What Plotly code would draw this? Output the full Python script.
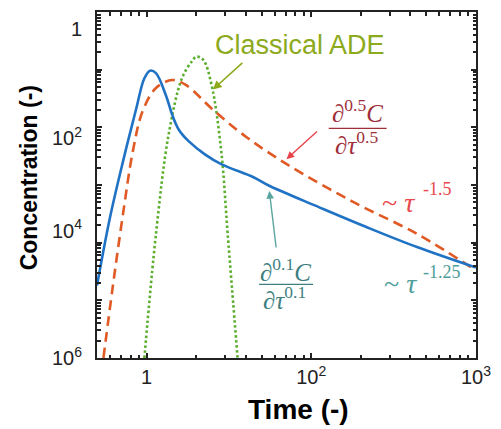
import numpy as np
import plotly.graph_objects as go

# ---- data ----
blue_t = [0.50, 0.60, 0.72, 0.865, 0.97, 1.05, 1.14, 1.31, 1.43, 1.57, 1.80, 2.26, 2.84, 4.49, 5.64, 11.2, 22.3, 44.3, 100]
blue_c = [1.8e-5, 2.75e-4, 2.6e-3, 2.1e-2, 7.1e-2, 9.6e-2, 8.7e-2, 3.6e-2, 1.66e-2, 9.1e-3, 5.75e-3, 3.4e-3,
          2.3e-3, 1.35e-3, 9.5e-4, 4.1e-4, 1.8e-4, 8.3e-5, 3.7e-5]

red_t = [0.547, 0.627, 0.72, 0.826, 0.946, 1.14, 1.43, 1.72, 2.59, 4.09, 7.1, 17.7, 44.3, 100]
red_c = [1e-6, 1.95e-5, 3.2e-4, 3.9e-3, 1.9e-2, 4.8e-2, 6.6e-2, 5.5e-2, 1.9e-2, 6.6e-3, 2.3e-3, 5.2e-4, 1.4e-4, 3.3e-5]

green_t = [0.97, 1.14, 1.36, 1.64, 1.88, 2.01, 2.21, 2.48, 2.84, 3.11, 3.57]
green_c = [1e-6, 1.4e-4, 7.4e-3, 7.1e-2, 0.138, 0.168, 0.148, 5.5e-2, 3.9e-3, 1.4e-4, 1e-6]

x_tickvals = [1, 10, 100]
x_ticktext = ["1", "10<sup>2</sup>", "10<sup>3</sup>"]
y_label_vals = [10 ** -0.29, 10 ** -2.19, 10 ** -3.79, 1e-6]
y_ticktext = ["1", "10<sup>2</sup>", "10<sup>4</sup>", "10<sup>6</sup>"]

W, H = 501, 429
ML, MR, MT, MB = 97, 18, 10, 71
PW, PH = W - ML - MR, H - MT - MB


def px(xp):
    return (xp - ML) / PW


def py(yp):
    return (H - MB - yp) / PH


def minor_vals(lo, hi):
    out = []
    for e in range(lo, hi + 1):
        for d in range(1, 10):
            out.append(d * 10.0 ** e)
    return out


fig = go.Figure()
fig.add_trace(go.Scatter(x=green_t, y=green_c, mode="lines", line=dict(color="#5BAE2E", width=2.6, dash="2.5px,2.5px", shape="spline"), showlegend=False))
fig.add_trace(go.Scatter(x=red_t, y=red_c, mode="lines", line=dict(color="#E05A25", width=2.6, dash="10px,6px", shape="spline"), showlegend=False))
fig.add_trace(go.Scatter(x=blue_t, y=blue_c, mode="lines", line=dict(color="#1F72C4", width=2.6, shape="spline"), showlegend=False))
fig.add_trace(go.Scatter(x=[], y=[], yaxis="y2", showlegend=False))

tickfont = dict(family="Liberation Sans, Arial", size=20, color="#222")

fig.update_layout(
    width=W, height=H,
    margin=dict(l=ML, r=MR, t=MT, b=MB),
    paper_bgcolor="white", plot_bgcolor="white",
    xaxis=dict(type="log", range=[np.log10(0.5), 2.0005], showgrid=False, zeroline=False,
               showline=True, linecolor="#222", linewidth=2, mirror="ticks",
               ticks="inside", ticklen=5, tickwidth=1.5, tickcolor="#222",
               tickvals=x_tickvals, ticktext=x_ticktext, tickfont=tickfont,
               minor=dict(tickmode="array", tickvals=minor_vals(-1, 2), ticks="inside", ticklen=3.5, tickwidth=1.5, tickcolor="#222")),
    yaxis=dict(type="log", range=[-6, 0], showgrid=False, zeroline=False,
               showline=True, linecolor="#222", linewidth=2, mirror="ticks",
               ticks="inside", ticklen=5, tickwidth=1.5, tickcolor="#222",
               tickvals=[10.0 ** e for e in range(-6, 1)], showticklabels=False,
               minor=dict(tickmode="array", tickvals=minor_vals(-7, 0), ticks="inside", ticklen=3.5, tickwidth=1.5, tickcolor="#222")),
    yaxis2=dict(type="log", range=[-6, 0], overlaying="y", side="left", anchor="x", showgrid=False, zeroline=False,
                showline=False, ticks="", tickvals=y_label_vals, ticktext=y_ticktext, tickfont=tickfont,
                ticklabelstandoff=14),
)

ann = []


def label(x, y, text, font, **kw):
    d = dict(xref="paper", yref="paper", x=px(x), y=py(y), text=text, showarrow=False,
             xanchor="center", yanchor="middle", font=font)
    d.update(kw)
    ann.append(d)


def arrow(hx, hy, ax, ay, color, w=1.4):
    ann.append(dict(xref="paper", yref="paper", x=px(hx), y=py(hy), text="", showarrow=True, ax=ax, ay=ay,
                    arrowhead=2, arrowsize=1.1, arrowwidth=w, arrowcolor=color))


bold = dict(family="Liberation Sans, Arial", color="black")
label(302, 410, "<b>Time (-)</b>", dict(bold, size=28))
label(28, 177, "<b>Concentration (-)</b>", dict(bold, size=23), textangle=-90)

olive = "#8CAA1C"
label(304, 43, "Classical ADE", dict(family="Liberation Sans, Arial", size=27, color=olive))
arrow(215, 88, 31, -28, olive, 1.6)

serif = "Liberation Serif, DejaVu Serif, serif"
dred = "#9E2E3A"
label(362, 110, "∂<sup>0.5</sup><i>C</i>", dict(family=serif, size=25, color=dred))
label(361, 142, "∂<i>τ</i><sup>0.5</sup>", dict(family=serif, size=25, color=dred))
arrow(290, 158, 32, -29, "#E8434B")
red_txt = "#E8474C"
label(385, 202, "~ <i>τ</i>", dict(family=serif, size=28, color=red_txt), xanchor="left")
label(427, 188, "-1.5", dict(family=serif, size=18, color=red_txt), xanchor="left")

teal = "#3F7F7F"
label(289, 269, "∂<sup>0.1</sup><i>C</i>", dict(family=serif, size=25, color=teal))
label(288, 298, "∂<i>τ</i><sup>0.1</sup>", dict(family=serif, size=25, color=teal))
arrow(272.5, 190, 7, 58, "#5AA5A0")
teal_txt = "#4E9E9A"
label(387, 283, "~ <i>τ</i>", dict(family=serif, size=28, color=teal_txt), xanchor="left")
label(427, 271, "-1.25", dict(family=serif, size=18, color=teal_txt), xanchor="left")

shapes = [
    dict(type="line", xref="paper", yref="paper", x0=px(333), x1=px(392), y0=py(127), y1=py(127), line=dict(color=dred, width=1.2)),
    dict(type="line", xref="paper", yref="paper", x0=px(262), x1=px(317), y0=py(284), y1=py(284), line=dict(color=teal, width=1.2)),
]
fig.update_layout(annotations=ann, shapes=shapes)

fig.write_html("out.html")
